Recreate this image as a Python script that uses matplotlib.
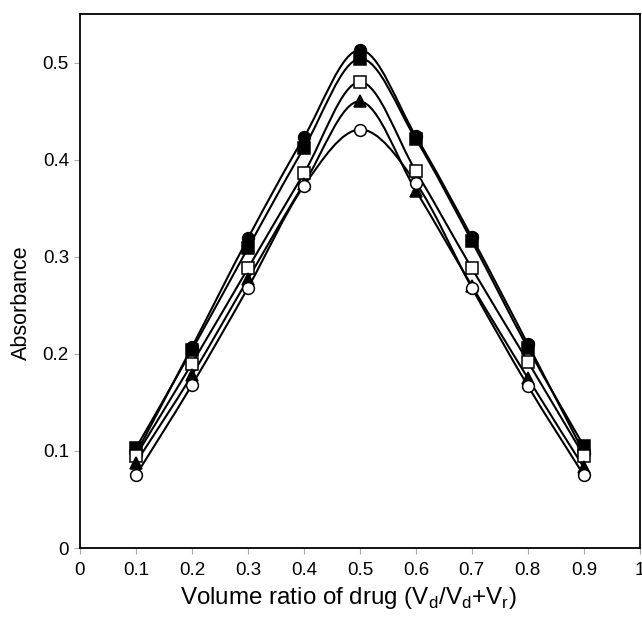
import matplotlib
matplotlib.use("Agg")
import matplotlib.pyplot as plt
from matplotlib.path import Path
from matplotlib.patches import PathPatch
from matplotlib.ticker import FormatStrFormatter

plt.rcParams['font.family'] = ['Liberation Sans', 'DejaVu Sans']

# Volume ratio of drug and absorbance
ratio = [0.1, 0.2, 0.3, 0.4, 0.5, 0.6, 0.7, 0.8, 0.9]

filled_circle = [0.097, 0.207, 0.319, 0.423, 0.513, 0.424, 0.320, 0.210, 0.098]
filled_square = [0.103, 0.204, 0.309, 0.412, 0.504, 0.421, 0.316, 0.206, 0.105]
open_square = [0.095, 0.190, 0.288, 0.386, 0.480, 0.388, 0.288, 0.192, 0.095]
filled_triangle = [0.088, 0.178, 0.277, 0.375, 0.460, 0.368, 0.270, 0.175, 0.083]
open_circle = [0.075, 0.168, 0.268, 0.373, 0.431, 0.376, 0.268, 0.167, 0.075]

series = [
    (filled_circle, 'o', 'black'),
    (filled_square, 's', 'black'),
    (open_square, 's', 'white'),
    (filled_triangle, '^', 'black'),
    (open_circle, 'o', 'white'),
]


def smooth_path(xs, ys):
    # Catmull-Rom curve through the points, drawn as cubic Bezier pieces
    verts = [(xs[0], ys[0])]
    codes = [Path.MOVETO]
    n = len(xs)
    for i in range(n - 1):
        x0, y0 = (xs[i - 1], ys[i - 1]) if i > 0 else (xs[i], ys[i])
        x1, y1 = xs[i], ys[i]
        x2, y2 = xs[i + 1], ys[i + 1]
        x3, y3 = (xs[i + 2], ys[i + 2]) if i + 2 < n else (x2, y2)
        c1 = (x1 + (x2 - x0) / 6, y1 + (y2 - y0) / 6)
        c2 = (x2 - (x3 - x1) / 6, y2 - (y3 - y1) / 6)
        verts += [c1, c2, (x2, y2)]
        codes += [Path.CURVE4] * 3
    return Path(verts, codes)


fig = plt.figure(figsize=(6.42, 6.17), dpi=100)
ax = fig.add_axes([0.1246, 0.1118, 0.872, 0.8655])

for values, marker, face in series:
    ax.add_patch(PathPatch(smooth_path(ratio, values), fill=False,
                           edgecolor='black', linewidth=1.5, zorder=2))
    ax.plot(ratio, values, linestyle='none', marker=marker, markersize=8.5,
            markerfacecolor=face, markeredgecolor='black',
            markeredgewidth=1.1, zorder=3)

ax.set_xlim(0, 1)
ax.set_ylim(0, 0.55)
ax.set_xticks([0, 0.1, 0.2, 0.3, 0.4, 0.5, 0.6, 0.7, 0.8, 0.9, 1])
ax.set_yticks([0, 0.1, 0.2, 0.3, 0.4, 0.5])
ax.xaxis.set_major_formatter(FormatStrFormatter('%g'))
ax.yaxis.set_major_formatter(FormatStrFormatter('%g'))
ax.tick_params(direction='out', length=4, width=0.8, color='#aaaaaa',
               labelsize=13.5)
ax.tick_params(axis='x', pad=6)
ax.tick_params(axis='y', pad=4)
for spine in ax.spines.values():
    spine.set_linewidth(1.3)

ax.set_xlabel('Volume ratio of drug (V$_\\mathregular{d}$/V$_\\mathregular{d}$+V$_\\mathregular{r}$)',
              fontsize=17.4, va='center')
ax.xaxis.set_label_coords(0.479, -0.094)
ax.set_ylabel('Absorbance', fontsize=15.5, va='center')
ax.yaxis.set_label_coords(-0.104, 0.459)

fig.savefig('out.png', dpi=100)
